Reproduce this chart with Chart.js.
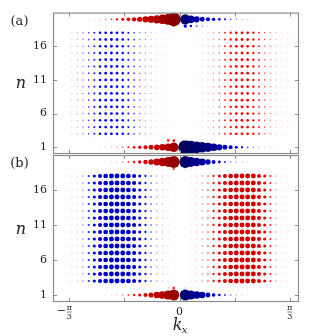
<!DOCTYPE html>
<html>
<head>
<meta charset="utf-8">
<script src="https://cdn.jsdelivr.net/npm/chart.js@4.4.0/dist/chart.umd.min.js"></script>
<style>
  html, body { margin: 0; padding: 0; background: #fff; }
  #wrap { position: relative; width: 332px; height: 336px; }
  #wrap canvas { position: absolute; left: 0; top: 0; }
</style>
</head>
<body>
<div id="wrap">
  <canvas id="chartA" width="332" height="336"></canvas>
  <canvas id="chartB" width="332" height="336"></canvas>
</div>
<script>
// kx columns, in units of pi/3 (column index -20 .. 20)
const kx = [
  -1.03, -0.979, -0.927, -0.876, -0.824, -0.773, -0.721, -0.67, -0.618, -0.567,
  -0.515, -0.464, -0.412, -0.361, -0.309, -0.258, -0.206, -0.155, -0.103, -0.052,
  0,
  0.052, 0.103, 0.155, 0.206, 0.258, 0.309, 0.361, 0.412, 0.464, 0.515,
  0.567, 0.618, 0.67, 0.721, 0.773, 0.824, 0.876, 0.927, 0.979, 1.03
];
const nValues = [1, 2, 3, 4, 5, 6, 7, 8, 9, 10, 11, 12, 13, 14, 15, 16, 17, 18, 19, 20];
const xTicks = [-1, -0.5, 0, 0.5, 1];
const yTicks = [1, 6, 11, 16];

// weights per column; negative = blue, positive = red, 0 = no dot
// panel (a)
const a_n1 = [
  0, 0, 0, 0, 0, 0.05, 0.08, 0.12, 0.18, 0.26,
  0.35, 0.44, 0.52, 0.58, 0.63, 0.68, 0.72, 0.76, 0.8, 0.86,
  0,
  -0.97, -0.95, -0.92, -0.89, -0.85, -0.8, -0.74, -0.68, -0.62, -0.55,
  -0.47, -0.38, -0.29, -0.2, -0.13, -0.08, -0.05, 0, 0, 0
];
const a_n2 = [
  0, -0.04, -0.04, -0.04, -0.04, -0.04, -0.04, -0.04, -0.04, -0.04,
  -0.04, 0.05, 0.05, 0.05, 0.05, 0.05, 0.05, 0.05, 0.48, 0.52,
  0,
  -0.16, -0.1, -0.06, -0.04, -0.04, -0.04, -0.04, -0.04, -0.04, -0.04,
  0.04, 0.04, 0.04, 0.04, 0.04, 0.04, 0.04, 0.04, 0.04, 0.04
];
const a_bulk = [
  0, -0.1, -0.18, -0.27, -0.36, -0.44, -0.5, -0.52, -0.53, -0.52,
  -0.5, -0.45, -0.38, -0.3, -0.22, -0.15, -0.1, -0.06, -0.04, 0,
  0,
  0, 0.04, 0.06, 0.1, 0.16, 0.24, 0.33, 0.42, 0.48, 0.52,
  0.53, 0.52, 0.48, 0.42, 0.34, 0.26, 0.18, 0.12, 0.07, 0.04
];
const a_n19 = [
  0, -0.04, -0.04, -0.04, -0.04, -0.04, -0.04, -0.04, -0.04, -0.04,
  -0.04, 0.05, 0.05, 0.05, 0.05, 0.05, 0.05, 0.05, 0.05, 0.42,
  0,
  -0.58, -0.5, -0.38, -0.26, -0.15, -0.07, -0.06, -0.06, -0.06, -0.06,
  0.04, 0.04, 0.04, 0.04, 0.04, 0.04, 0.04, 0.04, 0.04, 0.04
];
const a_n20 = [
  0, 0, 0.04, 0.06, 0.09, 0.14, 0.2, 0.3, 0.4, 0.48,
  0.55, 0.6, 0.65, 0.7, 0.74, 0.78, 0.82, 0.86, 0.9, 0.97,
  0,
  -0.88, -0.8, -0.74, -0.68, -0.63, -0.58, -0.52, -0.45, -0.36, -0.27,
  -0.18, -0.12, -0.08, -0.05, -0.03, 0, 0, 0, 0, 0
];

// panel (b)
const b_n1 = [
  0, 0, 0, 0, 0, 0, 0, 0.05, 0.09, 0.16,
  0.26, 0.38, 0.48, 0.56, 0.63, 0.69, 0.75, 0.8, 0.85, 0.9,
  0,
  -0.9, -0.85, -0.8, -0.75, -0.68, -0.6, -0.51, -0.41, -0.3, -0.2,
  -0.12, -0.06, 0, 0, 0, 0, 0, 0, 0, 0
];
const b_n2 = [
  0, -0.04, -0.04, -0.04, -0.04, -0.04, -0.04, -0.04, -0.04, -0.04,
  -0.04, -0.04, -0.04, -0.04, -0.04, -0.04, -0.04, -0.04, 0.25, 0.48,
  0,
  -0.18, -0.1, -0.06, 0.04, 0.04, 0.04, 0.04, 0.04, 0.04, 0.04,
  0.04, 0.04, 0.04, 0.04, 0.04, 0.04, 0.04, 0.04, 0.04, 0.04
];
const b_bulk = [
  -0.03, -0.06, -0.12, -0.26, -0.44, -0.56, -0.63, -0.67, -0.68, -0.68,
  -0.68, -0.67, -0.63, -0.56, -0.47, -0.36, -0.25, -0.15, -0.08, 0,
  0,
  0, 0.08, 0.15, 0.25, 0.36, 0.47, 0.56, 0.63, 0.67, 0.68,
  0.68, 0.68, 0.68, 0.63, 0.56, 0.44, 0.26, 0.12, 0.06, 0.03
];
const b_n19 = [
  0, -0.04, -0.04, -0.04, -0.04, -0.04, -0.04, -0.04, -0.04, -0.04,
  -0.04, -0.04, -0.04, -0.04, -0.04, -0.04, -0.04, -0.04, -0.04, 0.45,
  0,
  -0.14, -0.08, -0.05, 0.04, 0.04, 0.04, 0.04, 0.04, 0.04, 0.04,
  0.04, 0.04, 0.04, 0.04, 0.04, 0.04, 0.04, 0.04, 0.04, 0.04
];
const b_n20 = [
  0, 0, 0, 0, 0, 0, 0, 0.05, 0.1, 0.18,
  0.28, 0.4, 0.5, 0.58, 0.65, 0.71, 0.77, 0.82, 0.87, 0.92,
  0,
  -0.92, -0.87, -0.82, -0.77, -0.7, -0.62, -0.53, -0.43, -0.32, -0.22,
  -0.13, -0.07, 0, 0, 0, 0, 0, 0, 0, 0
];

function rowFor(panel, n) {
  const p = panel === "a"
    ? { 1: a_n1, 2: a_n2, 19: a_n19, 20: a_n20, bulk: a_bulk }
    : { 1: b_n1, 2: b_n2, 19: b_n19, 20: b_n20, bulk: b_bulk };
  return p[n] || p.bulk;
}

// seismic colormap, w in [-1, 1]
function seismic(w) {
  const t = (w + 1) / 2;
  let r, g, b;
  if (t < 0.25) { r = 0; g = 0; b = 0.3 + 0.7 * t / 0.25; }
  else if (t < 0.5) { const s = (t - 0.25) / 0.25; r = s; g = s; b = 1; }
  else if (t < 0.75) { const s = (t - 0.5) / 0.25; r = 1; g = 1 - s; b = 1 - s; }
  else { const s = (t - 0.75) / 0.25; r = 1 - 0.5 * s; g = 0; b = 0; }
  return `rgb(${Math.round(r * 255)},${Math.round(g * 255)},${Math.round(b * 255)})`;
}
const radius = (w) => 0.65 + 7 * Math.pow(Math.abs(w), 3.5);

function buildPoints(panel) {
  const pts = [];
  nValues.forEach((n) => {
    const row = rowFor(panel, n);
    row.forEach((w, i) => {
      if (w !== 0) pts.push({ x: kx[i], y: n, w: w });
    });
  });
  return pts;
}

const serif = '"DejaVu Serif", serif';
const frameColor = "#8c8c8c";

const decorPlugin = {
  id: "decor",
  afterDraw(chart, args, opts) {
    const { ctx, chartArea: a, scales: { x, y } } = chart;
    ctx.save();
    ctx.strokeStyle = frameColor;
    ctx.lineWidth = 1.2;
    ctx.strokeRect(a.left + 0.5, a.top + 0.5, a.right - a.left - 1, a.bottom - a.top - 1);

    ctx.lineWidth = 1;
    ctx.beginPath();
    xTicks.forEach((v) => {
      const px = Math.round(x.getPixelForValue(v)) + 0.5;
      ctx.moveTo(px, a.bottom); ctx.lineTo(px, a.bottom - 4);
      ctx.moveTo(px, a.top); ctx.lineTo(px, a.top + 4);
    });
    yTicks.forEach((v) => {
      const py = Math.round(y.getPixelForValue(v)) + 0.5;
      ctx.moveTo(a.left, py); ctx.lineTo(a.left + 4, py);
      ctx.moveTo(a.right, py); ctx.lineTo(a.right - 4, py);
    });
    ctx.stroke();

    ctx.fillStyle = "#222";
    ctx.textBaseline = "middle";
    ctx.textAlign = "center";
    ctx.font = "13px " + serif;
    ctx.fillText(opts.label, 19.5, a.top + 9);
    ctx.font = "italic 16px " + serif;
    ctx.fillText("n", 21, (a.top + a.bottom) / 2 + 1);

    if (opts.xLabels) {
      const base = a.bottom + 5;
      xTicks.forEach((v) => {
        const px = x.getPixelForValue(v);
        if (v === 0) {
          ctx.font = "11px " + serif;
          ctx.fillText("0", px, base + 5);
        } else if (Math.abs(v) === 1) {
          ctx.font = "8px " + serif;
          ctx.fillText("π", px, base + 1);
          ctx.fillText("3", px, base + 9.5);
          ctx.beginPath();
          ctx.strokeStyle = "#222";
          ctx.lineWidth = 0.6;
          ctx.moveTo(px - 2.5, base + 5); ctx.lineTo(px + 2.5, base + 5);
          ctx.stroke();
          if (v < 0) {
            ctx.font = "11px " + serif;
            ctx.fillText("\u2212", px - 8, base + 4);
          }
        }
      });
      const cx = x.getPixelForValue(0);
      ctx.font = "italic 16px " + serif;
      ctx.fillText("k", cx - 2, a.bottom + 24);
      ctx.font = "italic 10px " + serif;
      ctx.fillText("x", cx + 5, a.bottom + 28);
    }
    ctx.restore();
  }
};

function makeChart(id, panel, padding, label, xLabels) {
  const pts = buildPoints(panel);
  return new Chart(document.getElementById(id), {
    type: "scatter",
    data: {
      datasets: [{
        data: pts,
        pointRadius: (c) => radius(c.raw.w),
        pointBackgroundColor: (c) => seismic(c.raw.w),
        pointBorderWidth: 0,
        pointHoverRadius: (c) => radius(c.raw.w),
      }],
    },
    options: {
      responsive: false,
      animation: false,
      devicePixelRatio: 1,
      layout: { padding: padding },
      plugins: {
        legend: { display: false },
        tooltip: { enabled: false },
        decor: { label: label, xLabels: xLabels },
      },
      scales: {
        x: {
          type: "linear",
          min: -1.148,
          max: 1.084,
          display: false,
        },
        y: {
          type: "linear",
          min: 0,
          max: 21,
          grid: { display: false, drawTicks: false },
          border: { display: false },
          afterBuildTicks: (s) => { s.ticks = yTicks.map((v) => ({ value: v })); },
          afterFit: (s) => { s.width = 53; },
          ticks: {
            padding: 6,
            color: "#222",
            font: { family: serif, size: 11 },
            callback: (v) => String(v),
          },
        },
      },
    },
    plugins: [decorPlugin],
  });
}

function draw() {
  makeChart("chartA", "a", { left: 0, top: 7, right: 33, bottom: 182 }, "(a)", false);
  makeChart("chartB", "b", { left: 0, top: 155, right: 33, bottom: 34 }, "(b)", true);
}

Promise.all([
  document.fonts.load('12px "DejaVu Serif"'),
  document.fonts.load('italic 12px "DejaVu Serif"'),
]).then(draw, draw);
</script>
</body>
</html>
